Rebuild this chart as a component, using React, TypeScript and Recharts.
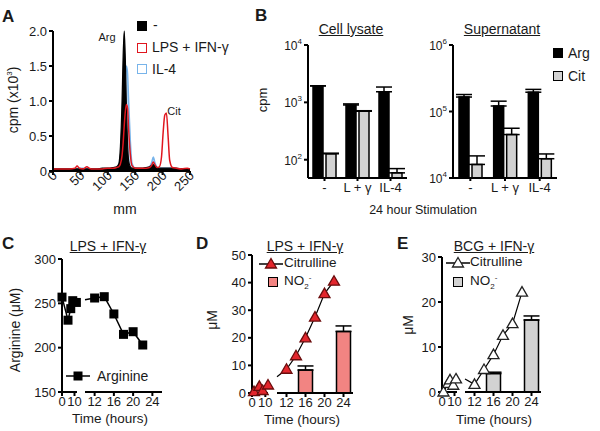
import React from "react";
import { ComposedChart, LineChart, BarChart, Area, Line, Bar, XAxis, YAxis, ErrorBar } from "recharts";

const W = 600;
const H = 431;
const FONT = "'Liberation Sans', Arial, sans-serif";
const INK = "#1a1a1a";

// A: radio-HPLC traces, cpm x10^3 against migration (mm)
const mm = [0, 10, 20, 30, 40, 44, 48, 55, 62, 66, 70, 80, 90, 100, 110, 116, 120, 123, 126, 128, 130, 132, 134, 136, 138, 141, 144, 150, 160, 170, 176, 180, 183, 186, 190, 194, 198, 201, 204, 207, 210, 213, 218, 225, 235, 245, 250];
const ctrlCpm = [0.03, 0.03, 0.03, 0.03, 0.03, 0.03, 0.03, 0.03, 0.03, 0.03, 0.03, 0.03, 0.04, 0.04, 0.05, 0.06, 0.1, 0.35, 1.0, 1.65, 2.0, 1.6, 0.9, 0.4, 0.15, 0.06, 0.04, 0.04, 0.04, 0.05, 0.06, 0.08, 0.09, 0.07, 0.05, 0.04, 0.04, 0.04, 0.04, 0.04, 0.04, 0.04, 0.04, 0.04, 0.03, 0.03, 0.03];
const lpsCpm = [0.03, 0.03, 0.03, 0.03, 0.04, 0.07, 0.04, 0.03, 0.06, 0.04, 0.03, 0.03, 0.03, 0.04, 0.04, 0.05, 0.06, 0.1, 0.22, 0.4, 0.65, 0.85, 0.95, 0.9, 0.6, 0.25, 0.08, 0.04, 0.04, 0.04, 0.05, 0.08, 0.13, 0.09, 0.05, 0.06, 0.2, 0.55, 0.8, 0.83, 0.5, 0.15, 0.05, 0.04, 0.03, 0.04, 0.03];
const il4Cpm = [0.03, 0.03, 0.03, 0.03, 0.03, 0.03, 0.04, 0.04, 0.03, 0.03, 0.03, 0.03, 0.03, 0.03, 0.04, 0.05, 0.08, 0.2, 0.4, 0.65, 1.0, 1.3, 1.5, 1.4, 1.0, 0.45, 0.12, 0.04, 0.03, 0.04, 0.06, 0.12, 0.2, 0.12, 0.05, 0.04, 0.04, 0.04, 0.04, 0.04, 0.04, 0.04, 0.04, 0.03, 0.03, 0.03, 0.03];

// B: 24 h stimulation, cpm (log axis)
const stimLabels = ["-", "L + γ", "IL-4"];
const lysateArg = [1940, 900, 1530];
const lysateArgErr = [0, 40, 320];
const lysateCit = [127, 700, 59];
const lysateCitErr = [3, 15, 11];
const superArg = [165000, 121000, 195000];
const superArgErr = [15000, 22000, 20000];
const superCit = [16000, 45000, 19500];
const superCitErr = [5500, 11000, 3500];

// C: arginine (uM); early segment left of the axis break, late segment in hours
// (first late value is where the line leaves the break, drawn without marker)
const cEarlyT = [0, 4.8, 7, 8.6, 11.5];
const cEarlyArg = [257, 231, 244, 253, 251];
const cLateT = [10, 12, 14, 16, 18, 20, 22];
const cLateArg = [254, 256, 257.5, 238, 215, 218, 203];

// D: LPS + IFN-g, citrulline and nitrite (uM)
const dEarlyT = [1.5, 5.5, 8, 12];
const dEarlyCit = [0.5, 2.4, 0.9, 2.9];
const dLateT = [10, 12, 14, 16, 18, 20, 22];
const dLateCit = [5.9, 8.6, 13.5, 20, 27.5, 36, 40.5];
const dNo2T = [16, 24];
const dNo2 = [8.3, 22.3];
const dNo2Err = [1.5, 2.0];

// E: BCG + IFN-g
const eEarlyT = [1.2, 5, 6.4, 9, 11.2];
const eEarlyCit = [0, 1.9, 2.7, 1.5, 2.9];
const eLateT = [10, 12, 14, 16, 18, 20, 22];
const eLateCit = [2.9, 1.7, 5.0, 8.3, 12.6, 15.2, 22.2];
const eNo2T = [16, 24];
const eNo2 = [4.1, 16.0];
const eNo2Err = [0.3, 0.9];

const traceRows = mm.map((x, i) => ({ mm: x, ctrl: ctrlCpm[i], lps: lpsCpm[i], il4: il4Cpm[i] }));
const lysateRows = stimLabels.map((s, i) => ({ stim: s, arg: lysateArg[i], argErr: [0, lysateArgErr[i]], cit: lysateCit[i], citErr: [0, lysateCitErr[i]] }));
const superRows = stimLabels.map((s, i) => ({ stim: s, arg: superArg[i], argErr: [0, superArgErr[i]], cit: superCit[i], citErr: [0, superCitErr[i]] }));
const pts = (t: number[], v: number[]) => t.map((x, i) => ({ t: x, v: v[i] }));
const bars = (t: number[], v: number[], e: number[]) => t.map((x, i) => ({ t: x, v: v[i], err: [0, e[i]] }));

const axisPen = { stroke: "#000", strokeWidth: 2 };
const tickFont = { fill: INK, fontSize: 13, fontFamily: FONT };

// plot box -> margin, for charts stacked full size on the page
function frame(x0: number, y0: number, x1: number, y1: number, yw = 0, xh = 0) {
  return { top: y0, left: x0 - yw, right: W - x1, bottom: H - y1 - xh };
}

function Layer({ children }: { children: React.ReactNode }) {
  return <div style={{ position: "absolute", left: 0, top: 0 }}>{children}</div>;
}

function Label(props: { x: number; y: number; children: React.ReactNode; size?: number; rotate?: number; left?: boolean; bold?: boolean; underline?: boolean }) {
  const { x, y, children, size = 14, rotate = 0, left, bold, underline } = props;
  return (
    <div
      style={{
        position: "absolute", left: x, top: y, whiteSpace: "nowrap", lineHeight: 1,
        transform: `translate(${left ? "0" : "-50%"}, -50%) rotate(${rotate}deg)`,
        fontSize: size, fontFamily: FONT, color: INK, fontWeight: bold ? 700 : 400,
        textDecoration: underline ? "underline" : "none",
      }}
    >
      {children}
    </div>
  );
}

function SlantTick({ x, y, payload }: any) {
  return (
    <text x={x} y={y} dx={4} dy={3} textAnchor="end" transform={`rotate(-45 ${x} ${y})`} fill={INK} fontSize={13} fontFamily={FONT}>
      {payload.value}
    </text>
  );
}

function PowTick({ x, y, payload }: any) {
  const exp = Math.round(Math.log10(payload.value));
  return (
    <text x={x} y={y} dy={5} textAnchor="end" fill={INK} fontSize={12} fontFamily={FONT}>
      10<tspan dy={-6} fontSize={8}>{exp}</tspan>
    </text>
  );
}

function SquareDot({ cx, cy, index, skipFirst }: any) {
  if (cx == null || (skipFirst && index === 0)) return <g key={index} />;
  return <rect key={index} x={cx - 4.5} y={cy - 4.5} width={9} height={9} fill="#000" />;
}

function TriDot({ cx, cy, index, skipFirst, fill, stroke }: any) {
  if (cx == null || (skipFirst && index === 0)) return <g key={index} />;
  const p = `${cx},${cy - 5.5} ${cx + 5.5},${cy + 4} ${cx - 5.5},${cy + 4}`;
  return <polygon key={index} points={p} fill={fill} stroke={stroke} strokeWidth={1.3} />;
}

function LegendLine({ x, y, marker }: { x: number; y: number; marker: "square" | "redTri" | "openTri" }) {
  return (
    <svg style={{ position: "absolute", left: x, top: y - 7 }} width={26} height={14}>
      <line x1={0} y1={7} x2={24} y2={7} stroke="#000" strokeWidth={1.5} />
      {marker === "square" && <rect x={7.5} y={2.5} width={9} height={9} fill="#000" />}
      {marker === "redTri" && <polygon points="12,1.5 17.5,11 6.5,11" fill="#e3262d" stroke="#6b0d0d" strokeWidth={1.3} />}
      {marker === "openTri" && <polygon points="12,1.5 17.5,11 6.5,11" fill="#fff" stroke="#222" strokeWidth={1.3} />}
    </svg>
  );
}

function Swatch({ x, y, fill, stroke }: { x: number; y: number; fill: string; stroke: string }) {
  return <div style={{ position: "absolute", left: x, top: y, width: 8, height: 8, background: fill, border: `1.5px solid ${stroke}` }} />;
}

const small = { fontSize: 8, lineHeight: 0 };
const NO2 = (
  <span>
    NO<sub style={small}>2</sub>
    <sup style={small}>-</sup>
  </span>
);

const xTime = { type: "number" as const, dataKey: "t", axisLine: axisPen, tickLine: axisPen, tick: tickFont, tickSize: 4, tickMargin: 1, height: 20, interval: 0 as const };
const yLin = { axisLine: axisPen, tickLine: axisPen, tick: tickFont, tickSize: 4, tickMargin: 2, width: 40, interval: 0 as const };

export default function App() {
  return (
    <div style={{ position: "absolute", left: 0, top: 0, width: W, height: H, background: "#fff", overflow: "hidden" }}>
      {/* A */}
      <Layer>
        <ComposedChart width={W} height={H} data={traceRows} margin={frame(53, 31, 190, 171, 30, 40)}>
          <XAxis type="number" dataKey="mm" domain={[0, 250]} ticks={[0, 50, 100, 150, 200, 250]} interval={0} axisLine={axisPen} tickLine={axisPen} tickSize={4} tick={<SlantTick />} height={40} />
          <YAxis domain={[0, 2]} ticks={[0, 0.5, 1, 1.5, 2]} tickFormatter={(v: number) => (v === 0 ? "0" : v.toFixed(1))} {...yLin} width={30} />
          <Area dataKey="il4" type="monotone" stroke="#78b4ea" strokeWidth={1.5} fill="#bfdaf3" fillOpacity={1} isAnimationActive={false} />
          <Area dataKey="ctrl" type="monotone" stroke="#000" strokeWidth={1.2} fill="#000" fillOpacity={1} isAnimationActive={false} />
          <Line dataKey="lps" type="monotone" stroke="#e0161e" strokeWidth={1.5} dot={false} isAnimationActive={false} />
        </ComposedChart>
      </Layer>

      {/* B */}
      <Layer>
        <BarChart width={W} height={H} data={lysateRows} margin={frame(308, 45, 407, 178, 40, 22)} barSize={10} barGap={3}>
          <XAxis dataKey="stim" axisLine={axisPen} tickLine={axisPen} tick={tickFont} tickSize={3} tickMargin={2} height={22} interval={0} />
          <YAxis scale="log" domain={[48, 10000]} allowDataOverflow ticks={[100, 1000, 10000]} axisLine={axisPen} tickLine={axisPen} tickSize={4} tickMargin={2} tick={<PowTick />} width={40} interval={0} />
          <Bar dataKey="arg" fill="#000" stroke="#000" strokeWidth={1.5} isAnimationActive={false}>
            <ErrorBar dataKey="argErr" width={8} stroke="#000" strokeWidth={1.5} direction="y" />
          </Bar>
          <Bar dataKey="cit" fill="#d2d2d2" stroke="#000" strokeWidth={1.5} isAnimationActive={false}>
            <ErrorBar dataKey="citErr" width={8} stroke="#000" strokeWidth={1.5} direction="y" />
          </Bar>
        </BarChart>
      </Layer>
      <Layer>
        <BarChart width={W} height={H} data={superRows} margin={frame(453, 45, 557, 178, 40, 22)} barSize={10} barGap={3}>
          <XAxis dataKey="stim" axisLine={axisPen} tickLine={axisPen} tick={tickFont} tickSize={3} tickMargin={2} height={22} interval={0} />
          <YAxis scale="log" domain={[10000, 1000000]} allowDataOverflow ticks={[10000, 100000, 1000000]} axisLine={axisPen} tickLine={axisPen} tickSize={4} tickMargin={2} tick={<PowTick />} width={40} interval={0} />
          <Bar dataKey="arg" fill="#000" stroke="#000" strokeWidth={1.5} isAnimationActive={false}>
            <ErrorBar dataKey="argErr" width={8} stroke="#000" strokeWidth={1.5} direction="y" />
          </Bar>
          <Bar dataKey="cit" fill="#d2d2d2" stroke="#000" strokeWidth={1.5} isAnimationActive={false}>
            <ErrorBar dataKey="citErr" width={8} stroke="#000" strokeWidth={1.5} direction="y" />
          </Bar>
        </BarChart>
      </Layer>

      {/* C */}
      <Layer>
        <LineChart width={W} height={H} data={pts(cEarlyT, cEarlyArg)} margin={frame(62, 259, 77, 392, 40, 20)}>
          <XAxis {...xTime} domain={[0, 12]} ticks={[0, 10]} />
          <YAxis domain={[150, 300]} ticks={[150, 200, 250, 300]} {...yLin} />
          <Line dataKey="v" stroke="#000" strokeWidth={1.5} dot={(p: any) => <SquareDot {...p} />} isAnimationActive={false} />
        </LineChart>
      </Layer>
      <Layer>
        <LineChart width={W} height={H} data={pts(cLateT, cLateArg)} margin={frame(85, 259, 162, 392, 0, 20)}>
          <XAxis {...xTime} domain={[10, 26]} ticks={[12, 16, 20, 24]} />
          <YAxis hide domain={[150, 300]} />
          <Line dataKey="v" stroke="#000" strokeWidth={1.5} dot={(p: any) => <SquareDot {...p} skipFirst />} isAnimationActive={false} />
        </LineChart>
      </Layer>

      {/* D */}
      <Layer>
        <LineChart width={W} height={H} data={pts(dEarlyT, dEarlyCit)} margin={frame(252, 255, 268, 393, 40, 20)}>
          <XAxis {...xTime} domain={[0, 12]} ticks={[0, 10]} />
          <YAxis domain={[0, 50]} ticks={[0, 10, 20, 30, 40, 50]} {...yLin} />
          <Line dataKey="v" stroke="#000" strokeWidth={1.2} dot={(p: any) => <TriDot {...p} fill="#e3262d" stroke="#6b0d0d" />} isAnimationActive={false} />
        </LineChart>
      </Layer>
      <Layer>
        <BarChart width={W} height={H} data={bars(dNo2T, dNo2, dNo2Err)} margin={frame(277, 255, 353, 393, 0, 20)} barSize={14}>
          <XAxis {...xTime} domain={[10, 26]} ticks={[12, 16, 20, 24]} />
          <YAxis hide domain={[0, 50]} />
          <Bar dataKey="v" fill="#f28482" stroke="#000" strokeWidth={1.5} isAnimationActive={false}>
            <ErrorBar dataKey="err" width={8} stroke="#000" strokeWidth={1.5} direction="y" />
          </Bar>
        </BarChart>
      </Layer>
      <Layer>
        <LineChart width={W} height={H} data={pts(dLateT, dLateCit)} margin={frame(277, 255, 353, 393)}>
          <XAxis hide type="number" dataKey="t" domain={[10, 26]} />
          <YAxis hide domain={[0, 50]} />
          <Line dataKey="v" stroke="#000" strokeWidth={1.2} dot={(p: any) => <TriDot {...p} skipFirst fill="#e3262d" stroke="#6b0d0d" />} isAnimationActive={false} />
        </LineChart>
      </Layer>

      {/* E */}
      <Layer>
        <LineChart width={W} height={H} data={pts(eEarlyT, eEarlyCit)} margin={frame(442, 257, 457, 392, 40, 20)}>
          <XAxis {...xTime} domain={[0, 12]} ticks={[0, 10]} />
          <YAxis domain={[0, 30]} ticks={[0, 10, 20, 30]} {...yLin} />
          <Line dataKey="v" stroke="#000" strokeWidth={1.2} dot={(p: any) => <TriDot {...p} fill="#fff" stroke="#222" />} isAnimationActive={false} />
        </LineChart>
      </Layer>
      <Layer>
        <BarChart width={W} height={H} data={bars(eNo2T, eNo2, eNo2Err)} margin={frame(465, 257, 541, 392, 0, 20)} barSize={14}>
          <XAxis {...xTime} domain={[10, 26]} ticks={[12, 16, 20, 24]} />
          <YAxis hide domain={[0, 30]} />
          <Bar dataKey="v" fill="#d2d2d2" stroke="#000" strokeWidth={1.5} isAnimationActive={false}>
            <ErrorBar dataKey="err" width={8} stroke="#000" strokeWidth={1.5} direction="y" />
          </Bar>
        </BarChart>
      </Layer>
      <Layer>
        <LineChart width={W} height={H} data={pts(eLateT, eLateCit)} margin={frame(465, 257, 541, 392)}>
          <XAxis hide type="number" dataKey="t" domain={[10, 26]} />
          <YAxis hide domain={[0, 30]} />
          <Line dataKey="v" stroke="#000" strokeWidth={1.2} dot={(p: any) => <TriDot {...p} skipFirst fill="#fff" stroke="#222" />} isAnimationActive={false} />
        </LineChart>
      </Layer>

      {/* panel letters */}
      <Label x={2} y={16} size={17} bold left>A</Label>
      <Label x={255} y={15} size={17} bold left>B</Label>
      <Label x={2} y={243} size={17} bold left>C</Label>
      <Label x={196} y={243} size={17} bold left>D</Label>
      <Label x={397} y={243} size={17} bold left>E</Label>

      {/* A text */}
      <Label x={13} y={100} rotate={-90}>cpm (x10<sup style={small}>3</sup>)</Label>
      <Label x={125} y={209}>mm</Label>
      <Label x={107} y={37} size={11}>Arg</Label>
      <Label x={174} y={111} size={11}>Cit</Label>
      <Swatch x={137} y={21} fill="#000" stroke="#000" />
      <Swatch x={137} y={43} fill="#fff" stroke="#e0161e" />
      <Swatch x={137} y={64} fill="#fff" stroke="#78b4ea" />
      <Label x={153} y={25} left>-</Label>
      <Label x={152} y={47} left>LPS + IFN-γ</Label>
      <Label x={152} y={69} left>IL-4</Label>

      {/* B text */}
      <Label x={351} y={29} underline>Cell lysate</Label>
      <Label x={502} y={29} underline>Supernatant</Label>
      <Label x={262} y={100} rotate={-90} size={13}>cpm</Label>
      <Label x={423} y={210} size={12.5}>24 hour Stimulation</Label>
      <Swatch x={553} y={48} fill="#000" stroke="#000" />
      <Swatch x={553} y={71} fill="#d2d2d2" stroke="#000" />
      <Label x={568} y={53} left>Arg</Label>
      <Label x={568} y={76} left>Cit</Label>

      {/* C text */}
      <Label x={108} y={246} underline>LPS + IFN-γ</Label>
      <Label x={15} y={330} rotate={-90}>Arginine (μM)</Label>
      <Label x={110} y={419} size={13.5}>Time (hours)</Label>
      <LegendLine x={66} y={376} marker="square" />
      <Label x={97} y={376} left>Arginine</Label>

      {/* D text */}
      <Label x={305} y={246} underline>LPS + IFN-γ</Label>
      <Label x={212} y={320} rotate={-90}>μM</Label>
      <Label x={302} y={420} size={13.5}>Time (hours)</Label>
      <LegendLine x={259} y={264} marker="redTri" />
      <Label x={284} y={263} left size={13.5}>Citrulline</Label>
      <Swatch x={268} y={277} fill="#f28482" stroke="#000" />
      <Label x={284} y={281} left size={13.5}>{NO2}</Label>

      {/* E text */}
      <Label x={494} y={246} underline>BCG + IFN-γ</Label>
      <Label x={408} y={325} rotate={-90}>μM</Label>
      <Label x={494} y={420} size={13.5}>Time (hours)</Label>
      <LegendLine x={446} y={263} marker="openTri" />
      <Label x={470} y={262} left size={13.5}>Citrulline</Label>
      <Swatch x={453} y={277} fill="#d2d2d2" stroke="#000" />
      <Label x={470} y={281} left size={13.5}>{NO2}</Label>
    </div>
  );
}
